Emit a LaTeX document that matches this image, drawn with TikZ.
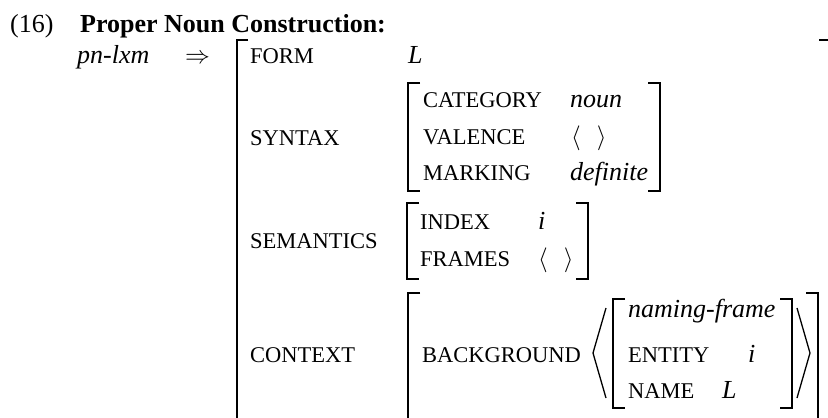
\documentclass[tikz,border=0pt]{standalone}
\usepackage{fontspec}
\setmainfont{Liberation Serif}
\usepackage{tikz}
\usetikzlibrary{positioning}

\begin{document}
\begin{tikzpicture}[x=1pt, y=-1pt]
\tikzstyle{txt}=[anchor=base west, inner sep=0pt, font=\fontsize{26}{30}\selectfont]
\tikzstyle{feat}=[anchor=base west, inner sep=0pt, font=\fontsize{22.5}{26}\selectfont]
\tikzstyle{val}=[anchor=base west, inner sep=0pt, font=\fontsize{26}{30}\selectfont\itshape]
\tikzstyle{brk}=[line width=1.8pt]
\tikzstyle{ang}=[line width=1.3pt]
\useasboundingbox (0,0) rectangle (828,418);

% heading
\node[txt] (num) at (10,32) {(16)};
\node[txt, font=\fontsize{26}{30}\selectfont\bfseries] (title) at (80,32) {Proper Noun Construction:};
\node[val] (pn) at (77,63) {pn-lxm};
\node[txt] (impl) at (185,63) {$\Rightarrow$};

% outer structure
\node[feat] (form) at (250,63) {FORM};
\node[val] (formv) at (408,63) {L};
\node[feat] (syn) at (250,145) {SYNTAX};
\node[feat] (sem) at (250,248) {SEMANTICS};
\node[feat] (ctx) at (250,362) {CONTEXT};
\draw[brk] (248,40) -- (237,40) -- (237,430);
\draw[brk] (819,40) -- (832,40) -- (832,430);

% syntax
\node[feat] (cat) at (423,107) {CATEGORY};
\node[val] (catv) at (570,107) {noun};
\node[feat] (val) at (423,144) {VALENCE};
\node[txt] (valv) at (571,144) {$\langle\hspace{16pt}\rangle$};
\node[feat] (mark) at (423,180) {MARKING};
\node[val] (markv) at (570,180) {definite};
\draw[brk] (420,83) -- (408,83) -- (408,191) -- (420,191);
\draw[brk] (648,83) -- (660,83) -- (660,191) -- (648,191);

% semantics
\node[feat] (idx) at (420,229) {INDEX};
\node[val] (idxv) at (538,229) {i};
\node[feat] (frm) at (420,266) {FRAMES};
\node[txt] (frmv) at (538,266) {$\langle\hspace{16pt}\rangle$};
\draw[brk] (419,203) -- (407,203) -- (407,279) -- (419,279);
\draw[brk] (576,203) -- (588,203) -- (588,279) -- (576,279);

% context
\node[feat] (bg) at (422,362) {BACKGROUND};
\draw[brk] (420,293) -- (408,293) -- (408,430);
\draw[brk] (806,293) -- (818,293) -- (818,430);
\draw[ang] (606,308) -- (593,353) -- (606,398);
\draw[ang] (797,308) -- (810,353) -- (797,398);
\node[val] (nf) at (628,317) {naming-frame};
\node[feat] (ent) at (628,362) {ENTITY};
\node[val] (entv) at (748,362) {i};
\node[feat] (nm) at (628,398) {NAME};
\node[val] (nmv) at (722,398) {L};
\draw[brk] (625,299) -- (613,299) -- (613,408) -- (625,408);
\draw[brk] (780,299) -- (792,299) -- (792,408) -- (780,408);
\end{tikzpicture}
\end{document}
